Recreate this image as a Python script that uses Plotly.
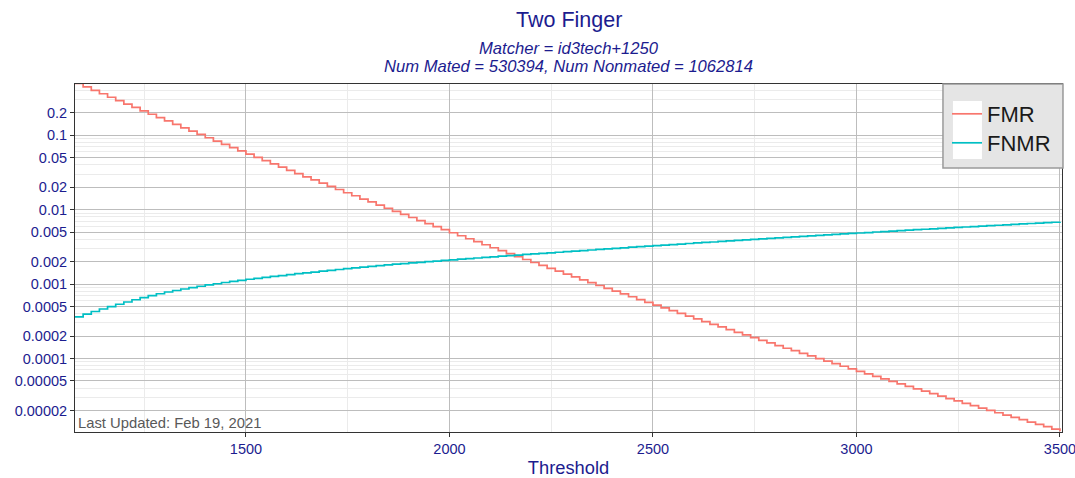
import plotly.graph_objects as go

# Score thresholds at which the error rates were evaluated
threshold = [
    1080, 1100, 1120, 1140, 1160, 1180, 1200, 1220, 1240, 1260, 1280, 1300,
    1320, 1340, 1360, 1380, 1400, 1420, 1440, 1460, 1480, 1500, 1520, 1540,
    1560, 1580, 1600, 1620, 1640, 1660, 1680, 1700, 1720, 1740, 1760, 1780,
    1800, 1820, 1840, 1860, 1880, 1900, 1920, 1940, 1960, 1980, 2000, 2020,
    2040, 2060, 2080, 2100, 2120, 2140, 2160, 2180, 2200, 2220, 2240, 2260,
    2280, 2300, 2320, 2340, 2360, 2380, 2400, 2420, 2440, 2460, 2480, 2500,
    2520, 2540, 2560, 2580, 2600, 2620, 2640, 2660, 2680, 2700, 2720, 2740,
    2760, 2780, 2800, 2820, 2840, 2860, 2880, 2900, 2920, 2940, 2960, 2980,
    3000, 3020, 3040, 3060, 3080, 3100, 3120, 3140, 3160, 3180, 3200, 3220,
    3240, 3260, 3280, 3300, 3320, 3340, 3360, 3380, 3400, 3420, 3440, 3460,
    3480, 3500,
]

# False match rate at each threshold
fmr = [
    0.498, 0.448, 0.402, 0.362, 0.325, 0.292, 0.263, 0.237, 0.213, 0.192,
    0.173, 0.156, 0.140, 0.126, 0.114, 0.103, 0.0928, 0.0837, 0.0756, 0.0683,
    0.0617, 0.0557, 0.0504, 0.0456, 0.0412, 0.0373, 0.0338, 0.0306, 0.0277, 0.0251,
    0.0227, 0.0206, 0.0187, 0.0169, 0.0154, 0.0139, 0.0127, 0.0115, 0.01045, 0.00949,
    0.00863, 0.00785, 0.00714, 0.00649, 0.00591, 0.00538, 0.00490, 0.00446, 0.00407, 0.00371,
    0.00338, 0.00308, 0.00281, 0.00257, 0.00234, 0.00214, 0.00195, 0.00178, 0.00163, 0.00149,
    0.00136, 0.00125, 0.00114, 0.001045, 0.000957, 0.000877, 0.000803, 0.000736, 0.000675, 0.000619,
    0.000568, 0.000521, 0.000478, 0.000439, 0.000403, 0.000371, 0.000341, 0.000313, 0.000288, 0.000265,
    0.000244, 0.000224, 0.000207, 0.000190, 0.000175, 0.000162, 0.000149, 0.000137, 0.000127, 0.000117,
    0.000108, 0.0000996, 0.0000920, 0.0000850, 0.0000785, 0.0000726, 0.0000671, 0.0000621, 0.0000575, 0.0000532,
    0.0000492, 0.0000456, 0.0000422, 0.0000391, 0.0000363, 0.0000336, 0.0000312, 0.0000289, 0.0000269, 0.0000249,
    0.0000232, 0.0000215, 0.0000200, 0.0000186, 0.0000173, 0.0000161, 0.0000150, 0.0000139, 0.0000130, 0.0000121,
    0.0000112, 0.0000105,
]

# False non-match rate at each threshold
fnmr = [
    0.000363, 0.000394, 0.000428, 0.000462, 0.000498, 0.000535, 0.000574, 0.000615, 0.000658, 0.000700,
    0.000741, 0.000782, 0.000820, 0.000859, 0.000897, 0.000935, 0.000973, 0.00101, 0.00105, 0.00109,
    0.00112, 0.00116, 0.00119, 0.00123, 0.00127, 0.00130, 0.00134, 0.00138, 0.00141, 0.00145,
    0.00149, 0.00153, 0.00157, 0.00161, 0.00165, 0.00169, 0.00173, 0.00177, 0.00181, 0.00185,
    0.001885, 0.001925, 0.00196, 0.00200, 0.00204, 0.00208, 0.00212, 0.00216, 0.00220, 0.00224,
    0.00228, 0.00232, 0.00237, 0.00241, 0.00245, 0.00250, 0.00254, 0.00259, 0.00263, 0.00268,
    0.00273, 0.00277, 0.00282, 0.00287, 0.00292, 0.00297, 0.00302, 0.00307, 0.00313, 0.00318,
    0.00323, 0.00329, 0.00334, 0.00340, 0.00345, 0.00351, 0.00357, 0.00363, 0.00368, 0.00374,
    0.00380, 0.00387, 0.00393, 0.00399, 0.00405, 0.00412, 0.00418, 0.00425, 0.00431, 0.00438,
    0.00445, 0.00451, 0.00458, 0.00465, 0.00472, 0.00479, 0.00486, 0.00493, 0.00501, 0.00508,
    0.00515, 0.00523, 0.00530, 0.00538, 0.00546, 0.00553, 0.00561, 0.00569, 0.00577, 0.00585,
    0.00593, 0.00601, 0.00610, 0.00618, 0.00626, 0.00635, 0.00643, 0.00652, 0.00660, 0.00669,
    0.00678, 0.00686,
]

x_tick_vals = [1500, 2000, 2500, 3000, 3500]
x_minor_vals = [1250, 1750, 2250, 2750, 3250]
y_tick_vals = [0.2, 0.1, 0.05, 0.02, 0.01, 0.005, 0.002, 0.001, 0.0005,
               0.0002, 0.0001, 0.00005, 0.00002]
y_tick_text = ["0.2", "0.1", "0.05", "0.02", "0.01", "0.005", "0.002", "0.001",
               "0.0005", "0.0002", "0.0001", "0.00005", "0.00002"]
# light gridlines at the remaining integer multiples of each decade
y_minor_vals = [m * 10.0 ** e for e in range(-5, 0) for m in (3, 4, 6, 7, 8, 9)]

NAVY = "#1c1c8f"
FONT = "Liberation Sans, Arial, sans-serif"

fig = go.Figure()
fig.add_trace(go.Scatter(x=threshold, y=fmr, name="FMR", mode="lines", legend="legend",
                         showlegend=True,
                         line=dict(color="#F8766D", width=1.7, shape="hv")))
fig.add_trace(go.Scatter(x=threshold, y=fnmr, name="FNMR", mode="lines", legend="legend2",
                         showlegend=True,
                         line=dict(color="#00BFC4", width=1.7, shape="hv")))

axis_common = dict(
    ticks="outside", ticklen=4, tickwidth=1, tickcolor="#333333",
    showline=True, mirror=True, linecolor="#333333", linewidth=1,
    showgrid=True, gridcolor="#bdbdbd", gridwidth=1.3, zeroline=False,
    tickfont=dict(family=FONT, size=14.5, color=NAVY), automargin=False,
    ticklabeloverflow="allow",
)

legend_common = dict(
    xanchor="left", yanchor="top", bgcolor="rgba(0,0,0,0)", borderwidth=0,
    itemwidth=30, font=dict(family=FONT, size=22, color="#1a1a1a"), visible=True,
)

fig.update_layout(
    width=1075, height=478,
    margin=dict(l=75, r=13, t=84, b=46),
    paper_bgcolor="white", plot_bgcolor="white",
    font=dict(family=FONT, color=NAVY),
    showlegend=True,
    xaxis=dict(
        range=[1080, 3505], tickmode="array", tickvals=x_tick_vals,
        minor=dict(tickmode="array", tickvals=x_minor_vals, showgrid=True,
                   gridcolor="#ebebeb", gridwidth=1, ticks=""),
        title=dict(text="Threshold", font=dict(family=FONT, size=18.3, color=NAVY), standoff=6),
        **axis_common,
    ),
    yaxis=dict(
        type="log", range=[-4.989, -0.31], tickmode="array",
        tickvals=y_tick_vals, ticktext=y_tick_text,
        minor=dict(tickmode="array", tickvals=y_minor_vals, showgrid=True,
                   gridcolor="#ebebeb", gridwidth=1, ticks=""),
        **axis_common,
    ),
    legend=dict(x=0.8835, y=0.9741, **legend_common),
    legend2=dict(x=0.8835, y=0.8908, **legend_common),
    shapes=[
        # legend panel
        dict(type="rect", xref="paper", yref="paper", x0=0.8794, x1=1.001,
             y0=0.7586, y1=1.0, layer="above", fillcolor="#e5e5e5",
             line=dict(color="#9a9a9a", width=1.5)),
        # legend key background
        dict(type="rect", xref="paper", yref="paper", x0=0.8895, x1=0.9189,
             y0=0.7845, y1=0.9511, layer="above", fillcolor="white",
             line=dict(width=0)),
    ],
    annotations=[
        dict(text="Two Finger", xref="paper", yref="paper", x=0.5, y=1.1839,
             xanchor="center", yanchor="middle", showarrow=False,
             font=dict(family=FONT, size=21.5, color=NAVY)),
        dict(text="<i>Matcher = id3tech+1250</i>", xref="paper", yref="paper",
             x=0.5, y=1.1034, xanchor="center", yanchor="middle", showarrow=False,
             font=dict(family=FONT, size=16.6, color=NAVY)),
        dict(text="<i>Num Mated = 530394, Num Nonmated = 1062814</i>", xref="paper",
             yref="paper", x=0.5, y=1.0489, xanchor="center", yanchor="middle",
             showarrow=False, font=dict(family=FONT, size=16.6, color=NAVY)),
        dict(text="Last Updated: Feb 19, 2021", xref="paper", yref="paper",
             x=0, y=0, xanchor="left", yanchor="bottom", xshift=1, yshift=-1,
             showarrow=False, font=dict(family=FONT, size=14.8, color="#595959")),
    ],
)

fig.write_html("out.html")
